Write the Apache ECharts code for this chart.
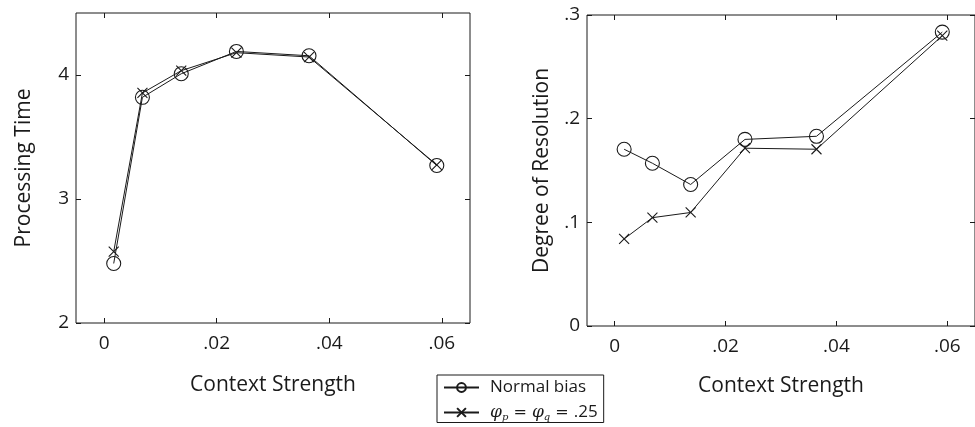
<!DOCTYPE html>
<html>
<head>
<meta charset="utf-8">
<script src="https://cdn.jsdelivr.net/npm/echarts@6/dist/echarts.min.js"></script>
<style>
html,body{margin:0;padding:0;background:#fff;}
#chart{width:975px;height:427px;}
</style>
</head>
<body>
<div id="chart"></div>
<script>
const contextStrength = [0.0017, 0.0068, 0.0137, 0.0235, 0.0364, 0.0591];
const timeNormal = [2.48, 3.82, 4.01, 4.19, 4.155, 3.27];
const timePhi = [2.575, 3.855, 4.035, 4.18, 4.145, 3.275];
const resNormal = [0.1705, 0.157, 0.1365, 0.180, 0.183, 0.2835];
const resPhi = [0.084, 0.1045, 0.1095, 0.1715, 0.1705, 0.280];
const xTicks = [0, 0.02, 0.04, 0.06];
const timeTicks = [2, 3, 4];
const resTicks = [0, 0.1, 0.2, 0.3];
const seriesNames = ['Normal bias', 'φp = φq = .25'];
const xName = 'Context Strength';
const yNames = ['Processing Time', 'Degree of Resolution'];

const FONT = 'Open Sans';
const INK = '#1a1a1a';
const pairs = a => contextStrength.map((x, i) => [x, a[i]]);
const fmtX = v => Math.abs(v) < 1e-9 ? '0' : v.toFixed(2).replace(/^0/, '');
const fmtY1 = v => String(Math.round(v));
const fmtY2 = v => Math.abs(v) < 1e-9 ? '0' : v.toFixed(1).replace(/^0/, '');
const xSym = 'path://M0,0L10,10M10,0L0,10';

function xAxes(gi, gap) {
  const base = {
    type: 'value', gridIndex: gi, min: -0.005, max: 0.065,
    splitLine: {show: false},
    axisLine: {show: false, onZero: false},
    axisTick: {show: true, inside: true, length: 5, lineStyle: {color: INK}, customValues: xTicks},
  };
  return [
    Object.assign({}, base, {
      position: 'bottom',
      axisLabel: {formatter: fmtX, fontFamily: FONT, fontSize: 19, color: INK, margin: 11, customValues: xTicks},
      name: xName, nameLocation: 'middle', nameGap: gap,
      nameTextStyle: {fontFamily: FONT, fontSize: 21, color: INK}
    }),
    Object.assign({}, base, {position: 'top', axisLabel: {show: false}})
  ];
}
function yAxes(gi, min, max, ticks, fmt, name, gap) {
  const base = {
    type: 'value', gridIndex: gi, min: min, max: max,
    splitLine: {show: false},
    axisLine: {show: false, onZero: false},
    axisTick: {show: true, inside: true, length: 5, lineStyle: {color: INK}, customValues: ticks},
  };
  return [
    Object.assign({}, base, {
      position: 'left',
      axisLabel: {formatter: fmt, fontFamily: FONT, fontSize: 19, color: INK, margin: 7, customValues: ticks},
      name: name, nameLocation: 'middle', nameGap: gap,
      nameTextStyle: {fontFamily: FONT, fontSize: 21, color: INK}
    }),
    Object.assign({}, base, {position: 'right', axisLabel: {show: false}})
  ];
}

function mk(name, data, gi, isCircle) {
  return {
    name: name, type: 'line', data: data,
    xAxisIndex: gi * 2, yAxisIndex: gi * 2,
    symbol: isCircle ? 'circle' : xSym,
    symbolSize: isCircle ? 14 : 10,
    showAllSymbol: true,
    lineStyle: {color: INK, width: 1},
    itemStyle: {color: 'rgba(0,0,0,0)', borderColor: INK, borderWidth: 1.1},
    emphasis: {disabled: true},
    animation: false
  };
}

const chart = echarts.init(document.getElementById('chart'), null, {renderer: 'canvas'});
chart.setOption({
  backgroundColor: '#fff',
  animation: false,
  grid: [
    {left: 76, top: 13, width: 394, height: 310, show: true, borderColor: INK, borderWidth: 1, backgroundColor: 'transparent'},
    {left: 587, top: 15, width: 394, height: 311, show: true, borderColor: INK, borderWidth: 1, backgroundColor: 'transparent'}
  ],
  xAxis: xAxes(0, 52).concat(xAxes(1, 50)),
  yAxis: yAxes(0, 2, 4.5, timeTicks, fmtY1, yNames[0], 41).concat(yAxes(1, 0, 0.3, resTicks, fmtY2, yNames[1], 34)),
  legend: {
    orient: 'vertical', left: 437, top: 375,
    data: seriesNames,
    borderColor: INK, borderWidth: 1, padding: [4, 6, 0, 6],
    itemWidth: 35, itemHeight: 11, itemGap: 8,
    textStyle: {fontFamily: FONT, fontSize: 17, color: INK, padding: [0, 0, 0, 6],
      rich: {
        i: {fontFamily: 'DejaVu Serif', fontStyle: 'italic', fontSize: 17, color: INK},
        s: {fontFamily: 'DejaVu Serif', fontStyle: 'italic', fontSize: 10, color: INK, padding: [10, 0, 0, 0]},
        t: {fontFamily: 'DejaVu Serif', fontSize: 16, color: INK},
        n: {fontFamily: FONT, fontSize: 17, color: INK}
      }},
    formatter: function (n) {
      if (n === seriesNames[1]) return '{i|φ}{s|p}{t| = }{i|φ}{s|q}{t| = }{n|.25}';
      return n;
    }
  },
  series: [
    mk(seriesNames[0], pairs(timeNormal), 0, true),
    mk(seriesNames[1], pairs(timePhi), 0, false),
    mk(seriesNames[0], pairs(resNormal), 1, true),
    mk(seriesNames[1], pairs(resPhi), 1, false)
  ]
});
</script>
</body>
</html>
